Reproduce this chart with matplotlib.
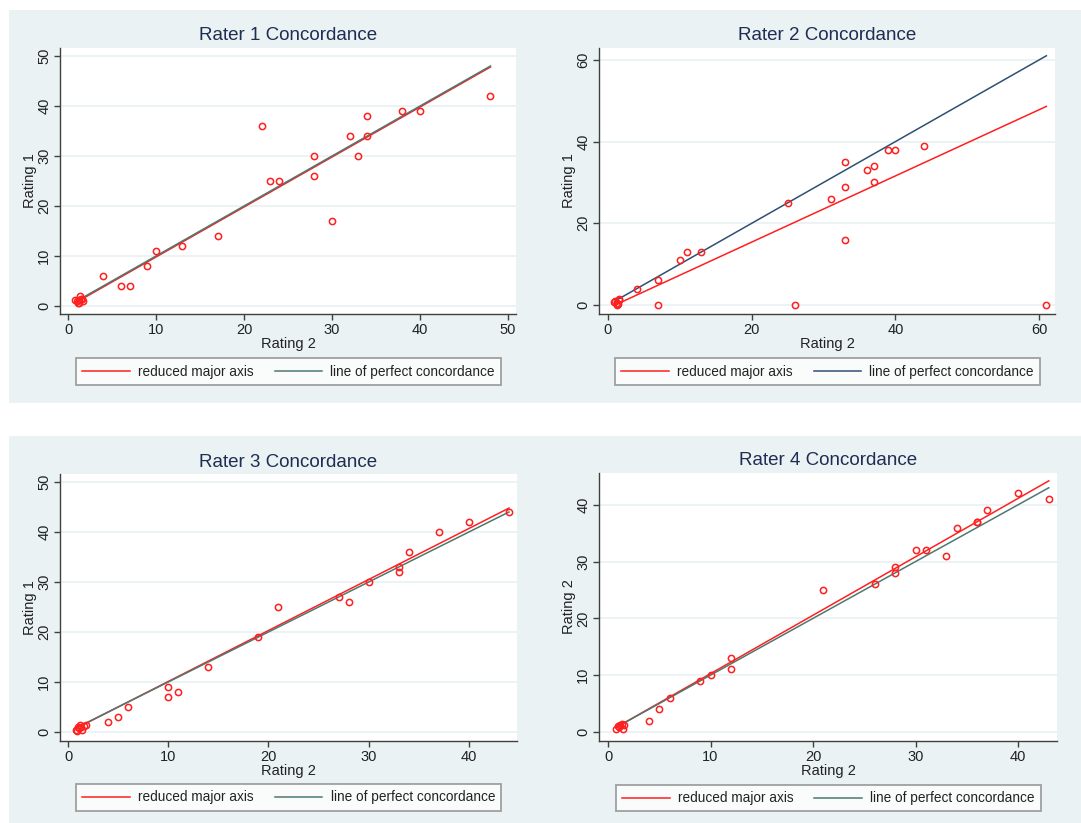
import matplotlib.pyplot as plt
from matplotlib.patches import Rectangle
import numpy as np

# DATA
titles = ['Rater 1 Concordance', 'Rater 2 Concordance', 'Rater 3 Concordance', 'Rater 4 Concordance']
ylabels = ['Rating 1', 'Rating 1', 'Rating 1', 'Rating 2']

r1_x = [22, 48, 38, 40, 34, 32, 34, 28, 33, 28, 23, 24, 30, 17, 13, 10, 9, 4, 6, 7,
        1.0, 1.2, 1.4, 1.5, 0.8, 1.7, 1.1, 1.3, 1.6]
r1_y = [36, 42, 39, 39, 38, 34, 34, 30, 30, 26, 25, 25, 17, 14, 12, 11, 8, 6, 4, 4,
        1.0, 0.6, 2.0, 1.5, 1.3, 1.0, 0.7, 1.2, 1.4]

r2_x = [25, 26, 61, 7, 7, 4, 10, 11, 13, 31, 33, 33, 33, 36, 37, 37, 39, 40, 44,
        1.0, 1.2, 1.3, 1.5, 0.9, 1.6, 1.4]
r2_y = [25, 0, 0, 0, 6, 4, 11, 13, 13, 26, 29, 35, 16, 33, 34, 30, 38, 38, 39,
        1.0, 0.0, 0.5, 1.5, 0.8, 1.2, 0.2]

r3_x = [44, 40, 37, 34, 33, 33, 30, 27, 28, 21, 19, 14, 10, 10, 11, 6, 5, 4,
        0.8, 1.0, 1.2, 1.4, 1.6, 1.8, 0.9, 1.1, 1.3]
r3_y = [44, 42, 40, 36, 33, 32, 30, 27, 26, 25, 19, 13, 9, 7, 8, 5, 3, 2,
        0.5, 1.0, 1.5, 0.5, 1.2, 1.5, 0.3, 0.8, 1.0]

r4_x = [43, 40, 37, 36, 36, 34, 30, 31, 33, 28, 28, 26, 21, 12, 12, 10, 9, 6, 5, 4,
        0.8, 1.0, 1.2, 1.4, 1.5, 1.6, 1.1]
r4_y = [41, 42, 39, 37, 37, 36, 32, 32, 31, 29, 28, 26, 25, 13, 11, 10, 9, 6, 4, 2,
        0.6, 1.0, 1.2, 1.4, 0.6, 1.3, 0.8]

xs = [r1_x, r2_x, r3_x, r4_x]
ys = [r1_y, r2_y, r3_y, r4_y]

# REDUCED MAJOR AXIS (SLOPE, INTERCEPT) AS DRAWN
rma_slope = [1.0, 0.81, 1.02, 1.029]
rma_intercept = [-0.2, -0.8, -0.1, -0.03]

xticks = [[0, 10, 20, 30, 40, 50], [0, 20, 40, 60], [0, 10, 20, 30, 40], [0, 10, 20, 30, 40]]
yticks = [[0, 10, 20, 30, 40, 50], [0, 20, 40, 60], [0, 10, 20, 30, 40, 50], [0, 10, 20, 30, 40]]
xlims = [(-0.91, 50.9), (-1.25, 62.2), (-0.8, 44.8), (-0.88, 43.8)]
ylims = [(-1.6, 51.6), (-2.2, 62.9), (-1.8, 51.6), (-1.6, 45.6)]

# STYLE
W, H = 1081, 823
bg = '#eaf2f3'
red = '#ff1f1f'
perfect_colors = ['#4f7871', '#2f4f73', '#4f7871', '#4f7871']
title_color = '#1e2d53'
axis_color = '#404040'
plt.rcParams['font.family'] = ['Liberation Sans', 'DejaVu Sans']

fig = plt.figure(figsize=(W / 100, H / 100), dpi=100)
fig.patch.set_facecolor('white')

# PANEL BACKGROUNDS (PIXELS)
for (x0, y0, x1, y1) in [(9, 10, 1081, 403), (9, 436, 1081, 823)]:
    fig.patches.append(Rectangle((x0 / W, 1 - y1 / H), (x1 - x0) / W, (y1 - y0) / H,
                                 transform=fig.transFigure, facecolor=bg, edgecolor='none', zorder=-5))

# AXES BOXES IN PIXELS: left, top, right, bottom
boxes = [(60, 48, 516, 314), (599, 48, 1055, 314), (60, 474, 517, 741), (599, 473, 1057, 741)]
titles_y = [36, 36, 462, 461]
legend_pos = [(288.5, 371.5), (827.5, 371.5), (288.7, 797.5), (828.3, 798.3)]

for i in range(4):
    l, t, r, b = boxes[i]
    ax = fig.add_axes([l / W, 1 - b / H, (r - l) / W, (b - t) / H])
    ax.set_zorder(1)
    ax.set_facecolor('white')
    x = np.array(xs[i])
    y = np.array(ys[i])
    xr = np.array([x.min(), x.max()])

    ax.plot(xr, rma_intercept[i] + rma_slope[i] * xr, color=red, lw=1.1,
            label='reduced major axis', zorder=3)
    ax.plot(xr, xr, color=perfect_colors[i], lw=1.1,
            label='line of perfect concordance', zorder=3)
    ax.plot(x, y, 'o', mfc='none', mec=red, ms=4.5, mew=1.1, zorder=4)

    ax.set_xlim(xlims[i])
    ax.set_ylim(ylims[i])
    ax.set_xticks(xticks[i])
    ax.set_yticks(yticks[i])
    ax.grid(axis='y', color=bg, lw=1.3)
    ax.set_axisbelow(True)
    for s in ['top', 'right']:
        ax.spines[s].set_visible(False)
    for s in ['left', 'bottom']:
        ax.spines[s].set_color(axis_color)
        ax.spines[s].set_linewidth(1.0)
    ax.tick_params(direction='out', length=4.3, width=1.0, color=axis_color,
                   labelsize=10.5, labelcolor='#222222', pad=2)
    for lab in ax.get_yticklabels():
        lab.set_rotation(90)
        lab.set_va('center')

    ax.set_xlabel('Rating 2', fontsize=10.5, color='#222222', labelpad=0)
    ax.set_ylabel(ylabels[i], fontsize=10.5, color='#222222', labelpad=0)

    fig.text(((l + r) / 2) / W, 1 - titles_y[i] / H, titles[i], ha='center', va='center',
             fontsize=13.5, color=title_color)

    cx, cy = legend_pos[i]
    leg = ax.legend(loc='center', bbox_to_anchor=(cx / W, 1 - cy / H), bbox_transform=fig.transFigure,
                    ncol=2, fontsize=9.8, frameon=True, fancybox=False, edgecolor='#8a8a8a',
                    handlelength=3.5, handletextpad=0.6, columnspacing=1.55, borderpad=0.45)
    leg.get_frame().set_linewidth(1.3)
    for txt in leg.get_texts():
        txt.set_color('#222222')

fig.savefig('out.png', dpi=100)
